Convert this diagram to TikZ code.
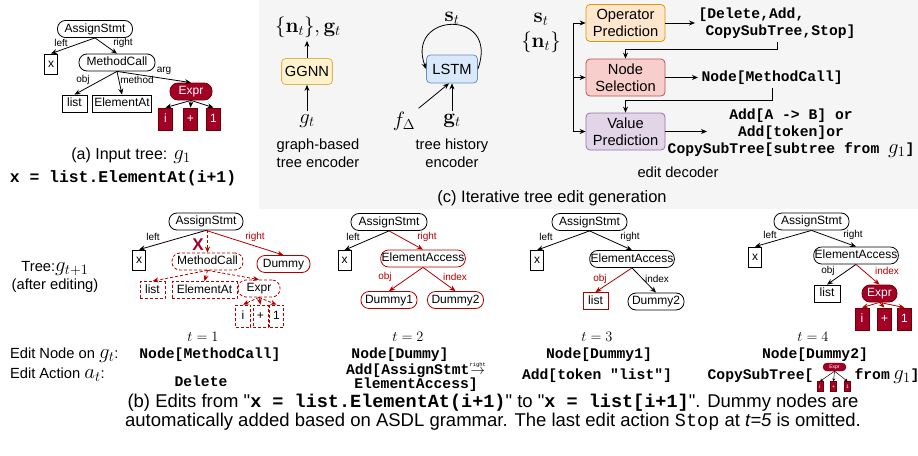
\documentclass[tikz,border=0pt]{standalone}
\usepackage{amsmath, amssymb}
\usepackage[no-math]{fontspec}
\setmainfont{Liberation Sans}
\setmonofont{Liberation Mono}
\usepackage{xcolor}
\usetikzlibrary{calc, arrows.meta}

\definecolor{bggray}{HTML}{F5F5F5}
\definecolor{exprred}{HTML}{A20025}
\definecolor{exprdark}{HTML}{6F0000}
\definecolor{editred}{HTML}{B20000}
\definecolor{ggnnfill}{HTML}{FFF2CC}
\definecolor{ggnndraw}{HTML}{D6B656}
\definecolor{lstmfill}{HTML}{DAE8FC}
\definecolor{lstmdraw}{HTML}{6C8EBF}
\definecolor{opfill}{HTML}{FFE6CC}
\definecolor{opdraw}{HTML}{D79B00}
\definecolor{nsfill}{HTML}{F8CECC}
\definecolor{nsdraw}{HTML}{B85450}
\definecolor{vpfill}{HTML}{E1D5E7}
\definecolor{vpdraw}{HTML}{9673A6}

\newcommand{\myfs}[2]{\fontsize{#1}{#2}\selectfont}
\newcommand{\bmath}[1]{{\fontsize{20}{20}\selectfont$#1$}}

\begin{document}
\begin{tikzpicture}[x=1pt, y=-1pt,
	tnode/.style={draw, rounded corners=8pt, line width=0.8pt, minimum height=17pt, inner xsep=4pt, inner ysep=0pt, text height=9pt, text depth=2.5pt, font=\myfs{12}{14}},
	leaf/.style={draw, line width=0.8pt, minimum height=17pt, inner xsep=2pt, inner ysep=0pt, text height=9pt, text depth=2.5pt, font=\myfs{12}{14}},
	xleaf/.style={leaf, minimum height=20pt, minimum width=13pt},
	tok/.style={leaf, minimum height=22pt, minimum width=14pt, fill=exprred, draw=exprdark, text=white},
	exprnode/.style={tnode, fill=exprred, draw=exprdark, text=white, minimum width=42pt},
	mini/.style={font=\myfs{5}{6}, text height=3.5pt, line width=0.4pt},
	gone/.style={draw=editred, dash pattern=on 3pt off 2pt},
	elab/.style={font=\myfs{10}{12}, inner sep=1pt},
	tarr/.style={-{Stealth[length=6pt, width=5pt]}, line width=0.8pt},
	gonearr/.style={tarr, editred, dash pattern=on 3pt off 2pt},
	dbox/.style={draw, rounded corners=4pt, line width=0.8pt, minimum width=79pt, minimum height=37pt, align=center, font=\myfs{14.7}{17}},
	code/.style={font=\myfs{14.7}{17}\ttfamily\bfseries},
	txt/.style={font=\myfs{14.7}{17.5}, align=center},
	mth/.style={font=\myfs{20}{22}},
	bmth/.style={font=\myfs{21}{23}},
	tlab/.style={font=\myfs{14.5}{16}},
	]
	\useasboundingbox (0,0) rectangle (918,455);
	
	%background of part (c)
	\fill[bggray] (259,0) rectangle (918,209);
	
	%(a) input tree
	\node[tnode, minimum width=75pt] (a-as) at (95,29) {AssignStmt};
	\node[xleaf] (a-x) at (51,64) {x};
	\node[tnode, minimum width=76pt] (a-mc) at (117,62.5) {MethodCall};
	\node[leaf, minimum width=25pt] (a-list) at (74.5,103.5) {list};
	\node[leaf, minimum width=58pt] (a-ea) at (122,103.5) {ElementAt};
	\node[exprnode] (a-ex) at (191,91.5) {Expr};
	\node[tok] (a-i) at (165.5,119) {i};
	\node[tok] (a-p) at (190.5,119) {+};
	\node[tok] (a-o) at (213.5,119) {1};
	
	\draw[tarr] (a-as.south) -- (a-x.north) node[elab] at (61,43) {left};
	\draw[tarr] (a-as.south) -- (a-mc.north) node[elab] at (123,43) {right};
	\draw[tarr] (a-mc.south) -- (a-list.north) node[elab] at (83,80) {obj};
	\draw[tarr] (a-mc.south) -- (a-ea.north) node[elab] at (137,80) {method};
	\draw[tarr] (a-mc.south) -- (a-ex.north) node[elab] at (164,71) {arg};
	\foreach \c in {i,p,o}
		\draw[tarr] (a-ex.south) -- (a-\c.north);
	
	\node[font=\myfs{16}{19}] (a-cap) at (131,156) {(a) Input tree: \bmath{g_1}};
	\node[font=\myfs{16.4}{19}\ttfamily\bfseries] (a-code) at (123,178) {x = list.ElementAt(i+1)};
	
	%(c) graph-based tree encoder
	\node[dbox, fill=ggnnfill, draw=ggnndraw, minimum width=50pt, minimum height=26pt] (ggnn) at (307,71.5) {GGNN};
	\node[bmth] (ggnn-out) at (308,27) {$\{\mathbf{n}_t\},\mathbf{g}_t$};
	\node[mth] (ggnn-in) at (307,121) {$g_t$};
	\draw[tarr] (ggnn-in) -- (ggnn);
	\draw[tarr] (ggnn) -- (ggnn.north |- ggnn-out.south);
	\node[txt] (ggnn-lab) at (318,153) {graph-based\\tree encoder};
	
	%tree history encoder
	\node[dbox, fill=lstmfill, draw=lstmdraw, minimum width=51pt, minimum height=28pt] (lstm) at (452,69) {LSTM};
	\node[bmth] (lstm-st) at (452,18) {$\mathbf{s}_t$};
	\draw[tarr] (lstm.east) .. controls (500,8) and (405,12) .. (lstm.west);
	\node[mth] (fdelta) at (404,121) {$f_\Delta$};
	\node[mth] (lstm-gt) at (452,121) {$\mathbf{g}_t$};
	\draw[tarr] (fdelta.north east) -- ([xshift=-3pt]lstm.south);
	\draw[tarr] (lstm-gt) -- (lstm);
	\node[txt] (lstm-lab) at (452,153) {tree history\\encoder};
	
	%edit decoder
	\node[bmth] (dec-st) at (541,19) {$\mathbf{s}_t$};
	\node[bmth] (dec-nt) at (541,42) {$\{\mathbf{n}_t\}$};
	\node[dbox, fill=opfill, draw=opdraw] (op) at (625.5,23) {Operator\\Prediction};
	\node[dbox, fill=nsfill, draw=nsdraw] (ns) at (625.5,77.5) {Node\\Selection};
	\node[dbox, fill=vpfill, draw=vpdraw] (vp) at (625.5,131.5) {Value\\Prediction};
	\coordinate (bus) at (573,77.5);
	\draw[tarr] (bus) |- (op.west);
	\draw[tarr] (bus) -- (ns.west);
	\draw[tarr] (bus) |- (vp.west);
	
	\node[code, anchor=west, align=left] (op-out) at (695,23.5) {[Delete,Add,\\\hspace*{7pt}CopySubTree,Stop]};
	\draw[tarr] (op.east) -- (op.east -| op-out.west);
	\draw[tarr] (op-out.south) -- ++(0,7) -| (ns.north);
	
	\node[code, anchor=west] (ns-out) at (698,77.5) {Node[MethodCall]};
	\draw[tarr] (ns.east) -- (ns.east -| ns-out.west);
	\draw[tarr] (ns-out.south) -- ++(0,13) -| (vp.north);
	
	\node[code, align=center] (vp-out) at (791,133) {Add[A -> B] or\\Add[token]or\\CopySubTree[subtree from \bmath{g_1}]};
	\coordinate (vp-tip) at (707,131.5);
	\draw[tarr] (vp.east) -- (vp-tip);
	\node[txt] (dec-lab) at (678,172) {edit decoder};
	
	\node[font=\myfs{16.5}{19}] (c-cap) at (552,198) {(c) Iterative tree edit generation};
	
	%(b) row labels
	\node[txt] (b-tree) at (55,277) {Tree:\bmath{g_{t+1}}\\(after editing)};
	
	%t=1
	\node[tnode, minimum width=74pt] (b1-as) at (206,221.5) {AssignStmt};
	\node[xleaf] (b1-x) at (139,260) {x};
	\node[tnode, gone, minimum width=71pt] (b1-mc) at (207.5,261.5) {MethodCall};
	\node[tnode, draw=editred, minimum width=53pt] (b1-dm) at (283.5,264) {Dummy};
	\node[leaf, gone, minimum width=25pt] (b1-list) at (152.5,290) {list};
	\node[leaf, gone, minimum width=65pt] (b1-ea) at (204.5,290) {ElementAt};
	\node[tnode, gone, minimum width=42pt] (b1-ex) at (259,288.5) {Expr};
	\node[leaf, gone, minimum height=22pt, minimum width=15pt] (b1-i) at (243,316) {i};
	\node[leaf, gone, minimum height=22pt, minimum width=15pt] (b1-p) at (260.5,316) {+};
	\node[leaf, gone, minimum height=22pt, minimum width=14pt] (b1-o) at (276.5,316) {1};
	
	\draw[tarr] (b1-as.south) -- (b1-x.north) node[elab] at (153,237) {left};
	\draw[tarr, editred] (b1-as.south) -- (b1-dm.north) node[elab] at (255,237) {right};
	\draw[gonearr] (b1-as.south -| b1-mc.north) -- (b1-mc.north);
	\node[text=exprred, font=\myfs{17}{18}\bfseries, inner sep=0pt] (b1-del) at (198,245) {X};
	\foreach \c in {list,ea,ex}
		\draw[gonearr] (b1-mc.south) -- (b1-\c.north);
	\foreach \c in {i,p,o}
		\draw[gonearr] (b1-ex.south) -- (b1-\c.north);
	
	%t=2
	\node[tnode, minimum width=76pt] (b2-as) at (389,222) {AssignStmt};
	\node[xleaf] (b2-x) at (344.5,260.5) {x};
	\node[tnode, draw=editred, inner xsep=1pt] (b2-ea) at (423,258.5) {ElementAccess};
	\node[tnode, draw=editred, minimum width=56pt] (b2-d1) at (389,300) {Dummy1};
	\node[tnode, draw=editred, minimum width=56pt] (b2-d2) at (455.5,300) {Dummy2};
	
	\draw[tarr] (b2-as.south) -- (b2-x.north) node[elab] at (353,237) {left};
	\draw[tarr, editred] (b2-as.south) -- (b2-ea.north) node[elab] at (427,237) {right};
	\draw[tarr, editred] (b2-ea.south) -- (b2-d1.north) node[elab] at (385,277) {obj};
	\draw[tarr, editred] (b2-ea.south) -- (b2-d2.north) node[elab] at (455,277) {index};
	
	%t=3
	\node[tnode, minimum width=75pt] (b3-as) at (589.5,222) {AssignStmt};
	\node[xleaf] (b3-x) at (537,260.5) {x};
	\node[tnode, inner xsep=1pt] (b3-ea) at (632,259) {ElementAccess};
	\node[leaf, draw=editred, minimum width=25pt] (b3-list) at (595.5,301) {list};
	\node[tnode, minimum width=56pt] (b3-d2) at (656,301.5) {Dummy2};
	
	\draw[tarr] (b3-as.south) -- (b3-x.north) node[elab] at (546,237) {left};
	\draw[tarr] (b3-as.south) -- (b3-ea.north) node[elab] at (630,237) {right};
	\draw[tarr, editred] (b3-ea.south) -- (b3-list.north) node[elab] at (600,279) {obj};
	\draw[tarr] (b3-ea.south) -- (b3-d2.north) node[elab] at (657,279) {index};
	
	%t=4
	\node[tnode, minimum width=75pt] (b4-as) at (811.5,221.5) {AssignStmt};
	\node[xleaf] (b4-x) at (755,257) {x};
	\node[tnode, inner xsep=1pt] (b4-ea) at (856,255.5) {ElementAccess};
	\node[leaf, minimum width=26pt] (b4-list) at (827,293.5) {list};
	\node[exprnode, minimum width=35pt] (b4-ex) at (879.5,293.5) {Expr};
	\node[tok] (b4-i) at (862,319) {i};
	\node[tok] (b4-p) at (884.5,319) {+};
	\node[tok] (b4-o) at (904.5,319) {1};
	
	\draw[tarr] (b4-as.south) -- (b4-x.north) node[elab] at (770,235) {left};
	\draw[tarr] (b4-as.south) -- (b4-ea.north) node[elab] at (853,235) {right};
	\draw[tarr] (b4-ea.south) -- (b4-list.north) node[elab] at (828,271) {obj};
	\draw[tarr, editred] (b4-ea.south) -- (b4-ex.north) node[elab] at (887,271) {index};
	\foreach \c in {i,p,o}
		\draw[tarr, editred] (b4-ex.south) -- (b4-\c.north);
	
	%time steps
	\node[tlab] (t1) at (203,337) {$t=1$};
	\node[tlab] (t2) at (408,337) {$t=2$};
	\node[tlab] (t3) at (597,337) {$t=3$};
	\node[tlab] (t4) at (813,337) {$t=4$};
	
	%edit nodes and actions
	\node[txt, anchor=west] (row-node) at (6.5,355) {Edit Node on \bmath{g_t}:};
	\node[txt, anchor=west] (row-act) at (6.5,375) {Edit Action \bmath{a_t}:};
	\node[code] (n1) at (210,355) {Node[MethodCall]};
	\node[code] (n2) at (400,355) {Node[Dummy]};
	\node[code] (n3) at (599,355) {Node[Dummy1]};
	\node[code] (n4) at (815,355) {Node[Dummy2]};
	\node[code] (e1) at (201,381) {Delete};
	\node[code, align=center, font=\myfs{14.7}{14}\ttfamily\bfseries] (e2) at (416,376) {Add[AssignStmt$\overset{\text{\mdseries\myfs{5.5}{6}right}}{\rightarrow}$\\ElementAccess]};
	\node[code] (e3) at (597,376) {Add[token \textquotedbl list\textquotedbl]};
	\node[code, anchor=east] (e4a) at (817,376) {CopySubTree[};
	\node[code, anchor=west] (e4b) at (851,376) {from\bmath{\,g_1}]};
	
	%copied subtree
	\node[exprnode, mini, minimum width=23pt, minimum height=8pt, rounded corners=4pt, text depth=1pt, inner xsep=1pt] (m-ex) at (834.5,367) {Expr};
	\node[tok, mini, minimum width=6pt, minimum height=10pt, text depth=0.5pt, inner xsep=0.5pt] (m-i) at (820,386.5) {i};
	\node[tok, mini, minimum width=6pt, minimum height=10pt, text depth=0.5pt, inner xsep=0.5pt] (m-p) at (833.5,386.5) {+};
	\node[tok, mini, minimum width=6pt, minimum height=10pt, text depth=0.5pt, inner xsep=0.5pt] (m-o) at (847.5,386.5) {1};
	\foreach \c in {i,p,o}
		\draw[-{Stealth[length=3pt, width=3pt]}, line width=0.5pt] (m-ex.south) -- (m-\c.north);
	
	%caption (b)
	\node[font=\myfs{18.5}{19}, align=center] (b-cap) at (493,412) {(b) Edits from \textquotedbl\textbf{\texttt{x = list.ElementAt(i+1)}}\textquotedbl{} to \textquotedbl\textbf{\texttt{x = list[i+1]}}\textquotedbl. Dummy nodes are\\automatically added based on ASDL grammar. The last edit action \texttt{Stop} at \textit{t=5} is omitted.};
\end{tikzpicture}
\end{document}
